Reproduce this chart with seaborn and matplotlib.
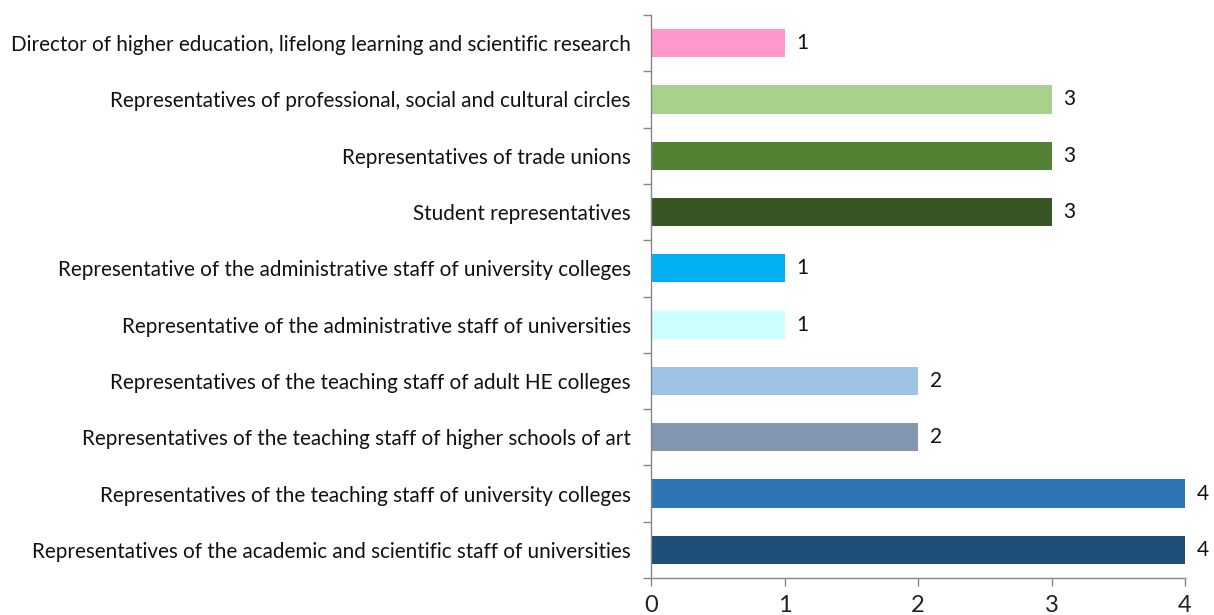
import matplotlib
matplotlib.use("Agg")
import matplotlib.pyplot as plt
import seaborn as sns
import pandas as pd

categories = [
    "Director of higher education, lifelong learning and scientific research",
    "Representatives of professional, social and cultural circles",
    "Representatives of trade unions",
    "Student representatives",
    "Representative of the administrative staff of university colleges",
    "Representative of the administrative staff of universities",
    "Representatives of the teaching staff of adult HE colleges",
    "Representatives of the teaching staff of higher schools of art",
    "Representatives of the teaching staff of university colleges",
    "Representatives of the academic and scientific staff of universities",
]
values = [1, 3, 3, 3, 1, 1, 2, 2, 4, 4]
colors = ["#FF99CC", "#A9D18E", "#548235", "#375623", "#00B0F0",
          "#CCFFFF", "#9DC3E6", "#8497B0", "#2E75B6", "#1F4E79"]
xticks = [0, 1, 2, 3, 4]

sns.set_style("white")
plt.rcParams["font.family"] = ["Lato", "DejaVu Sans"]

df = pd.DataFrame({"category": categories, "value": values})

fig = plt.figure(figsize=(12.14, 6.15), dpi=100)
ax = fig.add_axes([651/1214, 1 - 578/615, (1185 - 651)/1214, (578 - 15)/615])

sns.barplot(data=df, y="category", x="value", hue="category", order=categories,
            hue_order=categories, palette=colors, orient="h", width=0.5,
            legend=False, ax=ax, linewidth=0, saturation=1)

ax.set_xlim(0, 4)
ax.set_ylim(len(categories) - 0.5, -0.5)
ax.set_xticks(xticks)
ax.set_xticklabels([str(t) for t in xticks], fontsize=17, color="#222222")
ax.set_yticks(range(len(categories)))
ax.set_yticklabels(categories, fontsize=14.9, color="#111111")
ax.set_xlabel("")
ax.set_ylabel("")

for s in ["top", "right"]:
    ax.spines[s].set_visible(False)
for s in ["left", "bottom"]:
    ax.spines[s].set_color("#868686")
    ax.spines[s].set_linewidth(1)

ax.tick_params(axis="y", which="major", left=True, length=0, pad=14.5)
ax.tick_params(axis="x", which="major", bottom=True, length=6, width=1,
               color="#868686", direction="out", pad=6)
# minor ticks between categories on y axis
ax.set_yticks([i - 0.5 for i in range(len(categories) + 1)], minor=True)
ax.tick_params(axis="y", which="minor", left=True, length=6, width=1,
               color="#868686", direction="out")

for i, v in enumerate(values):
    ax.text(v + 0.09, i, str(v), va="center", ha="left", fontsize=15, color="#111111",
            clip_on=False)

fig.savefig("out.png", dpi=100)
